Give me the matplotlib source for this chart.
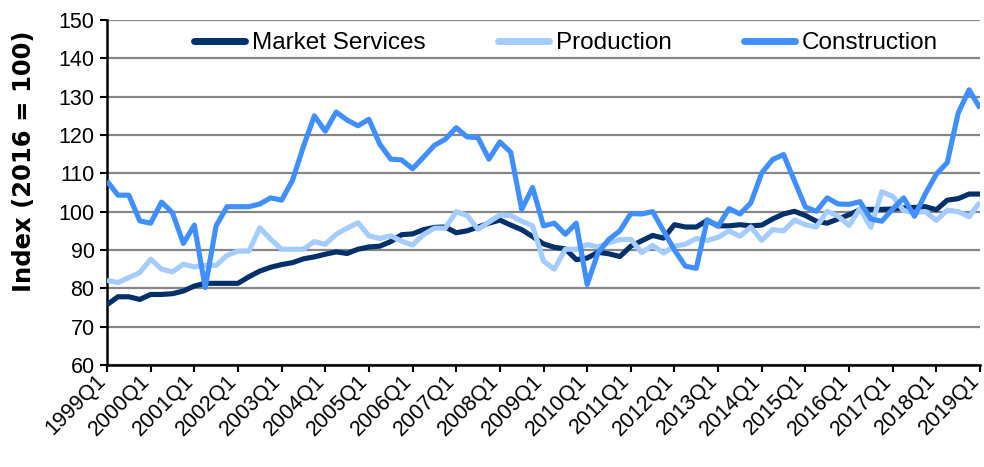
import matplotlib
matplotlib.use("Agg")
import matplotlib.pyplot as plt
import matplotlib.transforms as mtransforms

plt.rcParams['font.family'] = ['Liberation Sans', 'DejaVu Sans']

quarters = [f"{y}Q{q}" for y in range(1999, 2020) for q in range(1, 5)][:81]
tick_labels = [f"{y}Q1" for y in range(1999, 2020)]

market_services = [
    75.7, 77.8, 77.8, 77.1, 78.4, 78.4, 78.6, 79.3, 80.6, 81.3,
    81.3, 81.3, 81.3, 83.0, 84.5, 85.5, 86.2, 86.7, 87.7, 88.2,
    88.9, 89.5, 89.1, 90.2, 90.8, 91.0, 92.2, 94.0, 94.2, 95.3,
    95.9, 96.0, 94.5, 95.0, 96.0, 97.0, 97.8, 96.5, 95.3, 93.5,
    91.6, 90.7, 90.3, 87.5, 87.9, 89.4, 89.0, 88.3, 91.0, 92.4,
    93.8, 93.1, 96.6, 96.0, 96.0, 97.7, 96.3, 96.3, 96.6, 96.3,
    96.5, 98.1, 99.4, 100.1, 99.0, 97.5, 97.0, 98.1, 99.2, 100.5,
    100.6, 100.6, 100.7, 101.0, 101.1, 101.3, 100.5, 103.0, 103.4, 104.6,
    104.6,
]
production = [
    82.1, 81.5, 82.8, 84.1, 87.6, 85.0, 84.3, 86.3, 85.6, 86.0,
    86.0, 88.6, 89.7, 89.7, 95.8, 92.8, 90.2, 90.2, 90.2, 92.2,
    91.5, 94.1, 95.7, 97.1, 93.7, 93.0, 93.7, 92.3, 91.3, 94.0,
    95.7, 95.7, 100.0, 99.0, 95.4, 97.3, 99.1, 99.0, 97.5, 96.3,
    87.1, 85.0, 90.2, 90.2, 91.4, 90.8, 91.9, 92.7, 92.8, 89.3,
    91.2, 89.2, 91.0, 91.5, 93.0, 92.5, 93.3, 95.0, 93.6, 96.0,
    92.5, 95.3, 95.0, 97.8, 96.6, 96.0, 100.1, 98.8, 96.4, 100.8,
    95.9, 105.2, 104.0, 100.3, 99.8, 100.0, 97.7, 100.4, 100.0, 98.7,
    102.5,
]
construction = [
    108.0, 104.3, 104.3, 97.6, 97.0, 102.5, 99.7, 91.7, 96.5, 80.2,
    96.3, 101.3, 101.3, 101.3, 102.0, 103.6, 103.0, 108.2, 117.0, 125.0,
    121.0, 126.0, 123.9, 122.4, 124.1, 117.6, 113.7, 113.5, 111.2, 114.2,
    117.3, 118.9, 121.9, 119.5, 119.3, 113.7, 118.2, 115.5, 100.6, 106.3,
    96.3, 97.0, 94.1, 97.0, 81.0, 89.3, 92.8, 95.0, 99.5, 99.4,
    100.0, 95.0, 90.0, 85.8, 85.2, 97.9, 96.2, 100.8, 99.4, 102.3,
    110.1, 113.6, 114.9, 108.0, 101.2, 100.1, 103.6, 102.0, 101.9, 102.6,
    98.1, 97.5, 100.7, 103.6, 98.8, 104.7, 109.8, 112.8, 125.7, 131.8,
    127.0,
]

series = [
    ("Market Services", market_services, "#02306A"),
    ("Production", production, "#A4CCFF"),
    ("Construction", construction, "#3F8FFF"),
]

fig = plt.figure(figsize=(9.84, 4.67), dpi=100)
ax = fig.add_axes([107 / 984, 1 - 365 / 467, 873 / 984, 345 / 467])

x = list(range(len(quarters)))
for name, vals, col in series:
    ax.plot(x, vals, color=col, lw=3.7, label=name, solid_joinstyle='round',
            solid_capstyle='butt', zorder=3)

ax.set_xlim(0, len(quarters) - 1)
ax.set_ylim(60, 150)
ax.set_yticks(range(60, 151, 10))
ax.yaxis.grid(True, color="#868686", lw=1.6, zorder=0)
ax.set_axisbelow(True)

tick_pos = [quarters.index(t) for t in tick_labels]
ax.set_xticks(tick_pos)
ax.set_xticklabels([])

# rotated category labels placed at the tick positions
base = mtransforms.blended_transform_factory(ax.transData, ax.transAxes)
shift = mtransforms.ScaledTranslation(-4 / 100, -13 / 100, fig.dpi_scale_trans)
for pos, lab in zip(tick_pos, tick_labels):
    ax.text(pos, 0, lab, transform=base + shift, rotation=45, ha='right',
            va='center', rotation_mode='anchor', fontsize=15.5, clip_on=False)

ax.tick_params(axis='y', labelsize=15.5, length=5, width=1.5, direction='out', pad=4)
ax.tick_params(axis='x', length=5, width=1.5, direction='out')

for s in ['top', 'right']:
    ax.spines[s].set_visible(False)
for s in ['left', 'bottom']:
    ax.spines[s].set_color('black')
    ax.spines[s].set_linewidth(1.8)

ax.set_ylabel("Index (2016 = 100)", fontsize=17.5, fontweight='bold',
              family=['DejaVu Sans'])
ax.yaxis.set_label_coords((36 - 107) / 873, (365 - 161) / 345)

leg = ax.legend(loc='center', bbox_to_anchor=(566 / 984, 1 - 43 / 467),
                bbox_transform=fig.transFigure, ncol=3, frameon=False,
                fontsize=17.5, handlelength=2.1, handletextpad=0.3,
                columnspacing=2.95)
for line in leg.get_lines():
    line.set_linewidth(5)
    line.set_solid_capstyle('round')

fig.savefig("out.png", dpi=100)
